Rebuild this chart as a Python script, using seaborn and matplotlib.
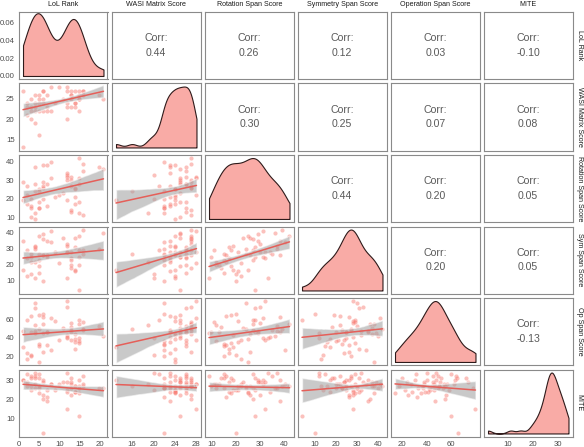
import numpy as np
import pandas as pd
import matplotlib
matplotlib.use("Agg")
import matplotlib.pyplot as plt
import seaborn as sns

#%% data: one value per participant
lol_rank = [1, 8, 10, 12, 6, 5, 7, 12, 13, 14, 16, 16, 15, 15, 15, 20, 21, 4, 5, 6,
            3, 7, 9, 3, 12, 2, 4, 5, 6, 8, 13, 14, 15, 3, 12, 4, 5, 1, 2, 3,
            4, 5, 6, 6, 11, 12, 13, 13, 14, 15, 14, 13, 16, 4, 7, 2]
wasi = [27, 28, 28, 28, 27, 26, 26, 27, 27, 27, 27, 26, 26, 25, 25, 26, 25, 24, 24, 24,
        23, 23, 24, 22, 23, 23, 22, 22, 22, 22, 23, 23, 22, 20, 20, 19, 16, 13, 24, 25,
        26, 25, 25, 27, 25, 24, 25, 26, 24, 27, 24, 26, 27, 23, 22, 21]
rotation = [29, 31, 22, 32, 27, 15, 28, 30, 14, 26, 11, 35, 18, 28, 31, 37, 36, 9, 25, 38,
            16, 38, 21, 15, 34, 17, 24, 15, 20, 40, 27, 21, 12, 20, 33, 12, 24, 19, 22, 10,
            28, 18, 29, 26, 23, 19, 30, 32, 17, 42, 25, 13, 39, 37, 16, 27]
symmetry = [35, 41, 21, 28, 36, 15, 25, 33, 18, 37, 29, 27, 29, 4, 25, 30, 40, 12, 38, 26,
            22, 35, 28, 27, 28, 24, 30, 23, 10, 34, 23, 16, 20, 14, 12, 22, 27, 17, 13, 25,
            31, 19, 39, 26, 37, 32, 28, 24, 31, 38, 17, 20, 42, 32, 26, 29]
operation = [48, 62, 38, 80, 55, 31, 46, 74, 52, 44, 57, 49, 35, 60, 40, 53, 42, 45, 14, 63,
             64, 47, 58, 20, 41, 24, 78, 33, 66, 27, 49, 36, 37, 22, 40, 54, 50, 30, 17, 47,
             72, 65, 45, 25, 51, 43, 56, 38, 28, 55, 39, 46, 50, 48, 32, 60]
mite = [30, 28, 28, 15, 20, 33, 25, 29, 31, 27, 28, 32, 23, 11, 30, 26, 26, 32, 23, 30,
        32, 19, 25, 31, 24, 29, 26, 26, 2, 28, 26, 27, 26, 25, 34, 28, 27, 30, 27, 27,
        31, 31, 29, 22, 29, 25, 22, 29, 24, 27, 24, 28, 27, 34, 21, 33]

col_names = ["LoL Rank", "WASI Matrix Score", "Rotation Span Score",
             "Symmetry Span Score", "Operation Span Score", "MITE"]
row_names = ["LoL Rank", "WASI Matrix Score", "Rotation Span Score",
             "Sym Span Score", "Op Span Score", "MITE"]

# correlations printed in the upper triangle, row by row
corr_upper = [[0.44, 0.26, 0.12, 0.03, -0.10],
              [0.30, 0.25, 0.07, 0.08],
              [0.44, 0.20, 0.05],
              [0.20, 0.05],
              [-0.13]]

x_ticks = [[0, 5, 10, 15, 20], [16, 20, 24, 28], [10, 20, 30, 40],
           [10, 20, 30, 40], [20, 40, 60], [10, 20, 30]]
y_ticks = [[0.00, 0.02, 0.04, 0.06], [15, 20, 25], [10, 20, 30, 40],
           [10, 20, 30, 40], [20, 40, 60], [10, 20, 30]]

df = pd.DataFrame({"lol": lol_rank, "wasi": wasi, "rot": rotation,
                   "sym": symmetry, "op": operation, "mite": mite})
cols = list(df.columns)

#%% styles
sns.set_style("white")
plt.rcParams['font.family'] = ['Liberation Sans', 'DejaVu Sans']

pt_col = '#F8766D'
line_col = '#E55F59'
fill_col = '#F9ABA6'
edge_col = '#2E1A1A'
frame_col = '#8A8A8A'
txt_col = '#595959'

W, H = 584, 447
fig = plt.figure(figsize=(W / 100, H / 100), dpi=100)
left0, top0 = 19, 12
pw, ph = 88.5, 67
dx, dy = 93, 71.5


def lims(v):
    v = np.asarray(v, float)
    r = v.max() - v.min()
    return v.min() - 0.05 * r, v.max() + 0.05 * r


for i in range(6):
    for j in range(6):
        l = left0 + j * dx
        t = top0 + i * dy
        ax = fig.add_axes([l / W, 1 - (t + ph) / H, pw / W, ph / H])
        xv = df[cols[j]]
        yv = df[cols[i]]

        if i == j:
            # diagonal: density, ggplot-like nrd0 bandwidth
            sd = xv.std()
            iqr = xv.quantile(0.75) - xv.quantile(0.25)
            adj = 0.9 * min(sd, iqr / 1.34) / sd
            sns.kdeplot(x=xv, ax=ax, fill=True, cut=0, bw_adjust=adj,
                        facecolor=fill_col, edgecolor=edge_col,
                        linewidth=0.8, alpha=1)
            m = ax.collections[0].get_paths()[0].vertices[:, 1].max()
            if i == 0:
                ax.set_ylim(-0.0034, 0.072)
            else:
                ax.set_ylim(-0.05 * m, 1.05 * m)
        elif i > j:
            sns.regplot(x=xv, y=yv, ax=ax, ci=95, seed=3, truncate=True,
                        scatter_kws=dict(s=9, alpha=0.45, color=pt_col,
                                         linewidths=0),
                        line_kws=dict(color=line_col, lw=1.1))
            # grey confidence band like geom_smooth
            for c in ax.collections[1:]:
                c.set_facecolor('#9E9E9E')
                c.set_alpha(0.55)
            ax.set_ylim(*lims(yv))
        else:
            v = corr_upper[i][j - i - 1]
            ax.text(0.5, 0.5, "Corr:\n%.2f" % v, transform=ax.transAxes,
                    ha='center', va='center', fontsize=7.6, color=txt_col,
                    linespacing=1.55)
        ax.set_xlim(*lims(xv))
        ax.set_xlabel("")
        ax.set_ylabel("")

        # axes only on outer left column and bottom row
        if i == 5:
            ax.set_xticks(x_ticks[j])
        else:
            ax.set_xticks([])
        if j == 0:
            ax.set_yticks(y_ticks[i])
            if i == 0:
                ax.set_yticklabels(["%.2f" % v for v in y_ticks[0]])
        else:
            ax.set_yticks([])
        ax.tick_params(length=2, width=0.5, color='#333333', labelsize=5.6,
                       labelcolor='#4D4D4D', pad=1.2)
        for s in ax.spines.values():
            s.set_color(frame_col)
            s.set_linewidth(0.8)

# strip labels
for j in range(6):
    cx = left0 + j * dx + pw / 2
    fig.text(cx / W, 1 - 5 / H, col_names[j], ha='center', va='center',
             fontsize=5.1, color='#1A1A1A')
for i in range(6):
    cy = top0 + i * dy + ph / 2
    fig.text(579 / W, 1 - cy / H, row_names[i], ha='center', va='center',
             rotation=-90, fontsize=5.1, color='#1A1A1A')

fig.savefig("out.png", dpi=100)
